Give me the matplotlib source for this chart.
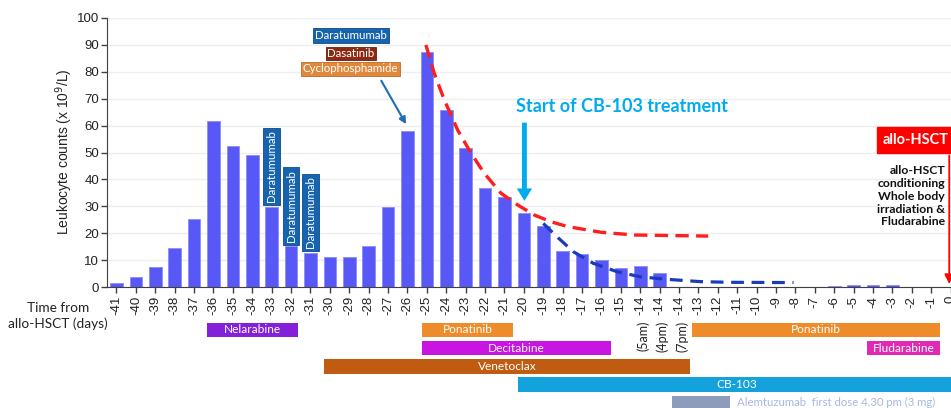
import matplotlib
matplotlib.use("Agg")
import matplotlib.pyplot as plt
from matplotlib.patches import Rectangle

# x categories (days from allo-HSCT); -14 appears three times (5am, 4pm, 7pm)
days = ['-41', '-40', '-39', '-38', '-37', '-36', '-35', '-34', '-33', '-32',
        '-31', '-30', '-29', '-28', '-27', '-26', '-25', '-24', '-23', '-22',
        '-21', '-20', '-19', '-18', '-17', '-16', '-15', '-14', '-14', '-14',
        '-13', '-12', '-11', '-10', '-9', '-8', '-7', '-6', '-5', '-4',
        '-3', '-2', '-1', '0']
leukocytes = [1.5, 3.8, 7.6, 14.7, 25.2, 61.8, 52.5, 49.0, 29.9, 15.2,
              12.8, 11.2, 11.2, 15.5, 29.8, 58.0, 87.3, 65.6, 51.5, 37.0,
              33.5, 27.5, 22.8, 13.5, 12.5, 10.2, 7.2, 7.9, 5.2, 0.0,
              0.0, 0.0, 0.0, 0.0, 0.0, 0.0, 0.1, 0.6, 0.85, 0.85,
              0.85, 0.1, 0.0, 0.0]
time_notes = ['(5am)', '(4pm)', '(7pm)']
time_note_pos = [27, 28, 29]

# trend curves (category position, value)
red_x = [15.95, 16.38, 16.9, 17.59, 18.28, 18.96, 19.82, 20.69, 21.54, 22.41, 23.27, 24.99, 26.7, 30.5]
red_y = [89.9, 79.4, 69.5, 58.3, 49.7, 42.3, 34.9, 30.5, 26.8, 24.3, 22.5, 20.4, 19.4, 19.0]
blue_x = [22.0, 22.7, 23.55, 24.58, 25.8, 27.0, 28.36, 30.1, 31.6, 34.9]
blue_y = [23.7, 18.8, 13.2, 8.9, 5.8, 3.9, 2.97, 2.1, 1.85, 1.75]

# treatment timeline (start / end in category positions, row)
drugs = ['Nelarabine', 'Ponatinib', 'Decitabine', 'Venetoclax', 'Ponatinib',
         'Fludarabine', 'CB-103', '']
drug_start = [4.66, 15.73, 15.73, 10.70, 29.68, 38.70, 20.71, 28.62]
drug_end = [9.36, 20.45, 25.47, 29.56, 42.45, 42.45, 43.20, 31.62]
drug_row = [0, 0, 1, 2, 0, 1, 3, 4]
drug_colors = ['#8420d8', '#ee8b2a', '#c815e2', '#c05c12', '#ee8b2a',
               '#e02ab6', '#14a2dc', '#8e9cbc']

dara_pos = [8, 9, 10]

W, H = 951, 408
fig = plt.figure(figsize=(W / 100, H / 100), dpi=100)
ax = fig.add_axes([107.3 / W, (H - 287.3) / H, (W - 107.3) / W, 269.6 / H])

x = list(range(len(days)))
ax.bar(x, leukocytes, width=0.65, color='#5858f6', edgecolor='#8c8cff', linewidth=0.6, zorder=2)
ax.plot(red_x, red_y, color='#ff1e1e', lw=2.4, dashes=(4, 2.2), zorder=3)
ax.plot(blue_x, blue_y, color='#1a3cbc', lw=2.3, dashes=(4, 2.4), zorder=3)

ax.set_xlim(-0.474, 43.02)
ax.set_ylim(0, 100)
ax.set_yticks(range(0, 101, 10))
ax.set_xticks(x)
ax.set_xticklabels(days, rotation=90, family='Liberation Sans', fontsize=9.5, color='#222222')
for lab in ax.get_yticklabels():
    lab.set_family('Liberation Sans')
    lab.set_fontsize(9.5)
    lab.set_color('#222222')
ax.tick_params(length=4, width=1, color='#404040', pad=2)
ax.yaxis.grid(True, color='#eeeeee', lw=1)
ax.set_axisbelow(True)
for s in ['top', 'right']:
    ax.spines[s].set_visible(False)
for s in ['left', 'bottom']:
    ax.spines[s].set_color('#404040')

fig.text(64.5 / W, 1 - 152 / H, 'Leukocyte counts (x 10$^{9}$/L)', rotation=90,
         ha='center', va='center', family='Liberation Sans', fontsize=10, color='#222222')
fig.text(58 / W, 1 - 316 / H, 'Time from\nallo-HSCT (days)', ha='center', va='center',
         family='Lato', fontsize=9.8, linespacing=1.35, color='#222222')

# vertical Daratumumab boxes above bars
for p in dara_pos:
    ax.text(p, leukocytes[p] + 1.6, 'Daratumumab', rotation=90, ha='center', va='bottom',
            family='Lato', fontsize=8.3, color='white', zorder=4,
            bbox=dict(boxstyle='square,pad=0.25', fc='#1664b0', ec='#0d4a88', lw=0.6))

# top-left treatment labels
ax.text(12.09, 93.4, 'Daratumumab', ha='center', va='center', family='Lato', fontsize=8.3,
        color='white', bbox=dict(boxstyle='square,pad=0.15', fc='#1664b0', ec='#0d4a88', lw=0.6))
ax.text(12.07, 86.7, 'Dasatinib', ha='center', va='center', family='Lato', fontsize=8.3,
        color='white', bbox=dict(boxstyle='square,pad=0.12', fc='#8a2a12', ec='#6a1e0c', lw=0.6))
ax.text(12.07, 81.0, 'Cyclophosphamide', ha='center', va='center', family='Lato', fontsize=8.3,
        color='white', bbox=dict(boxstyle='square,pad=0.15', fc='#e0883c', ec='#c06a20', lw=0.6))
ax.annotate('', xy=(15.0, 59.6), xytext=(13.58, 77.5),
            arrowprops=dict(arrowstyle='-|>', color='#1f6db5', lw=1.5, mutation_scale=10))

# start of CB-103
ax.text(20.6, 67.2, 'Start of CB-103 treatment', ha='left', va='center', family='Lato',
        fontweight='bold', fontsize=13, color='#00acee')
ax.annotate('', xy=(21.03, 31.0), xytext=(21.03, 62.1),
            arrowprops=dict(arrowstyle='simple,head_width=1.1,head_length=0.9,tail_width=0.35',
                            color='#00acee', lw=0, mutation_scale=10))

# allo-HSCT marker
ax.add_patch(Rectangle((39.19, 49.9), 4.2, 9.4, color='#ff0000', clip_on=False, zorder=4))
ax.text(41.2, 54.6, 'allo-HSCT', ha='center', va='center', family='Lato', fontweight='bold',
        fontsize=10.5, color='white', zorder=5)
ax.text(42.71, 33.75, 'allo-HSCT\nconditioning\nWhole body\nirradiation &\nFludarabine',
        ha='right', va='center', family='Lato', fontweight='bold', fontsize=8.8,
        linespacing=1.2, color='#111111')
ax.annotate('', xy=(42.93, 0.2), xytext=(42.93, 49.9), annotation_clip=False,
            arrowprops=dict(arrowstyle='-|>', color='#ff0000', lw=1.3, mutation_scale=14))

# treatment timeline below the axis
ax2 = fig.add_axes([107.3 / W, 0, (W - 107.3) / W, 90 / H])
ax2.set_xlim(-0.474, 43.02)
ax2.set_ylim(4.286, -0.659)
ax2.axis('off')
for name, s, e, r, c in zip(drugs, drug_start, drug_end, drug_row, drug_colors):
    ax2.add_patch(Rectangle((s, r - 0.4), e - s, 0.8, fc=c, ec='none', clip_on=False))
    if name:
        ax2.text((s + e) / 2, r, name, ha='center', va='center', family='Lato',
                 fontsize=8.6, color='white')
ax2.text(32.0, 4.0, 'Alemtuzumab  first dose 4.30 pm (3 mg)', ha='left', va='center',
         family='Lato', fontsize=8.2, color='#a8b8dc')
for t, p in zip(time_notes, time_note_pos):
    ax2.text(p + 0.15, -0.5, t, rotation=90, ha='center', va='top', family='Lato',
             fontsize=9, color='#222222')

fig.savefig('out.png', dpi=100)
